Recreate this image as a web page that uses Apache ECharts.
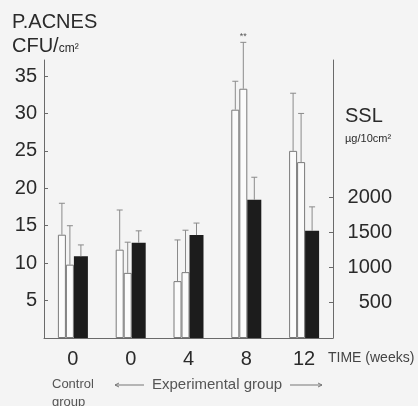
<!DOCTYPE html>
<html><head><meta charset="utf-8">
<script src="https://cdn.jsdelivr.net/npm/echarts@6/dist/echarts.min.js"></script>
<style>html,body{margin:0;padding:0;background:#f4f4f4}#c{width:418px;height:406px}</style>
</head><body><div id="c"></div>
<script>
// ---- data ----
const categories = ['0', '0', '4', '8', '12'];
const pacnesA = [13.8, 11.8, 7.6, 30.5, 25.0];      // first white bar (CFU/cm2)
const pacnesAErr = [18.0, 17.1, 13.1, 34.3, 32.7];  // error bar tops
const pacnesB = [9.8, 8.7, 8.8, 33.3, 23.5];        // second white bar
const pacnesBErr = [15.0, 12.8, 14.4, 39.5, 30.0];
const ssl = [1160, 1350, 1460, 1960, 1520];         // black bar (ug/10cm2)
const sslErr = [1320, 1520, 1630, 2280, 1860];
const marksB = ['', '', '', '**', ''];
const leftTicks = [5, 10, 15, 20, 25, 30, 35];
const rightTicks = [500, 1000, 1500, 2000];

const FONT = 'Liberation Sans';
const TXT = '#2a2a2a';

function errData(vals, tops, marks) {
  return vals.map((v, i) => [i, tops[i], v, marks ? marks[i] : '']);
}
function errRender(offset) {
  return function (params, api) {
    const i = api.value(0);
    const top = api.coord([i, api.value(1)]);
    const base = api.coord([i, api.value(2)]);
    const x = top[0] + offset;
    const children = [
      { type: 'line', shape: { x1: x, y1: base[1], x2: x, y2: top[1] }, style: { stroke: '#8a8a8a', lineWidth: 1 } },
      { type: 'line', shape: { x1: x - 3, y1: top[1], x2: x + 3, y2: top[1] }, style: { stroke: '#8a8a8a', lineWidth: 1 } }
    ];
    const m = api.value(3);
    if (m) children.push({ type: 'text', style: { text: m, x: x, y: top[1] - 1, align: 'center', verticalAlign: 'bottom', fontSize: 9, fill: '#555', fontFamily: FONT } });
    return { type: 'group', children };
  };
}

const chart = echarts.init(document.getElementById('c'));
chart.setOption({
  backgroundColor: '#f4f4f4',
  animation: false,
  grid: { left: 44, right: 85, top: 60, bottom: 68 },
  xAxis: {
    type: 'category', data: categories,
    axisLine: { lineStyle: { color: '#6a6a6a' } },
    axisTick: { alignWithLabel: true, length: 5, lineStyle: { color: '#6a6a6a' } },
    axisLabel: { fontSize: 20, color: TXT, margin: 11, fontFamily: FONT }
  },
  yAxis: [
    {
      type: 'value', min: 0, max: 37.14, interval: 5,
      axisLine: { show: true, lineStyle: { color: '#6a6a6a' } },
      axisTick: { show: true, inside: true, length: 4, customValues: leftTicks, lineStyle: { color: '#6a6a6a' } },
      axisLabel: { customValues: leftTicks, fontSize: 20, color: TXT, margin: 7, fontFamily: FONT },
      splitLine: { show: false }
    },
    {
      type: 'value', min: 0, max: 3943, position: 'right',
      axisLine: { show: true, lineStyle: { color: '#6a6a6a' } },
      axisTick: { show: true, inside: true, length: 4, customValues: rightTicks, lineStyle: { color: '#6a6a6a' } },
      axisLabel: { customValues: rightTicks, formatter: v => String(v), align: 'right', fontSize: 20, color: TXT, margin: 59, fontFamily: FONT },
      splitLine: { show: false }
    }
  ],
  series: [
    { type: 'bar', data: pacnesA, barWidth: 8, barGap: '0%', yAxisIndex: 0,
      itemStyle: { color: '#fbfbfb', borderColor: '#7a7a7a', borderWidth: 1 } },
    { type: 'bar', data: pacnesB, barWidth: 8, barGap: '0%', yAxisIndex: 0,
      itemStyle: { color: '#fbfbfb', borderColor: '#7a7a7a', borderWidth: 1 } },
    { type: 'bar', data: ssl, barWidth: 14, barGap: '0%', yAxisIndex: 1,
      itemStyle: { color: '#1c1c1c' } },
    { type: 'custom', yAxisIndex: 0, clip: false, z: 5, renderItem: errRender(-11), data: errData(pacnesA, pacnesAErr) },
    { type: 'custom', yAxisIndex: 0, clip: false, z: 5, renderItem: errRender(-3), data: errData(pacnesB, pacnesBErr, marksB) },
    { type: 'custom', yAxisIndex: 1, clip: false, z: 5, renderItem: errRender(8), data: errData(ssl, sslErr) }
  ],
  graphic: [
    { type: 'text', left: 12, top: 12, style: { text: 'P.ACNES', fontSize: 20, fill: TXT, fontFamily: FONT } },
    { type: 'text', left: 12, top: 36, style: { text: '{a|CFU/}{b|cm²}', fill: TXT, fontFamily: FONT,
        rich: { a: { fontSize: 20, fontFamily: FONT, fill: TXT, verticalAlign: 'bottom' }, b: { fontSize: 12, fontFamily: FONT, fill: TXT, verticalAlign: 'bottom', padding: [0, 0, 1, 0] } } } },
    { type: 'text', left: 345, top: 106, style: { text: 'SSL', fontSize: 20, fill: TXT, fontFamily: FONT } },
    { type: 'text', left: 345, top: 133, style: { text: 'µg/10cm²', fontSize: 11, fill: TXT, fontFamily: FONT } },
    { type: 'text', left: 328, top: 351, style: { text: 'TIME (weeks)', fontSize: 14, fill: '#444', fontFamily: FONT } },
    { type: 'text', left: 52, top: 378, style: { text: 'Control', fontSize: 13, fill: '#555', fontFamily: FONT } },
    { type: 'text', left: 52, top: 396, style: { text: 'group', fontSize: 13, fill: '#555', fontFamily: FONT } },
    { type: 'text', left: 152, top: 377, style: { text: 'Experimental group', fontSize: 15, fill: '#555', fontFamily: FONT } },
    { type: 'line', shape: { x1: 115, y1: 385, x2: 144, y2: 385 }, style: { stroke: '#777', lineWidth: 1 } },
    { type: 'polyline', shape: { points: [[119, 383], [115, 385], [119, 387]] }, style: { stroke: '#777', lineWidth: 1, fill: null } },
    { type: 'line', shape: { x1: 290, y1: 385, x2: 322, y2: 385 }, style: { stroke: '#777', lineWidth: 1 } },
    { type: 'polyline', shape: { points: [[318, 383], [322, 385], [318, 387]] }, style: { stroke: '#777', lineWidth: 1, fill: null } }
  ]
});
</script></body></html>
